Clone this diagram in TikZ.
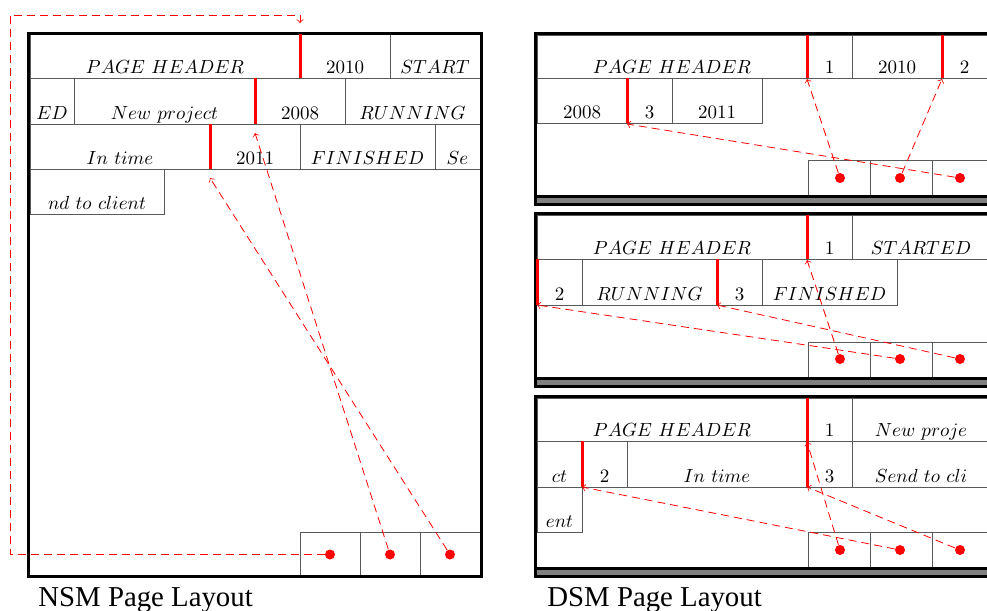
\documentclass[tikz,border=0pt]{standalone}
\usepackage{fontspec}
\newfontfamily\capfont{Liberation Serif}
\begin{document}
\begin{tikzpicture}[x=0.5pt,y=-0.5pt,
  cellbox/.style={draw=black!65, line width=0.5pt},
  redbar/.style={red, line width=1.5pt},
  framebox/.style={black, line width=1.5pt},
  lbl/.style={anchor=base, inner sep=0pt, scale=0.95},
  reddot/.style={circle, fill=red, inner sep=0pt, minimum size=5pt},
  conn/.style={red, dash pattern=on 4pt off 2.5pt, line width=0.4pt, ->},
  caption/.style={anchor=base west, inner sep=0pt, font=\capfont\fontsize{14.4}{16}\selectfont}]
\clip (0,0) rectangle (987,611);
\newcommand\cellA[6]{\draw[cellbox] (#2,#4) rectangle (#3,#5); \node[lbl] (#1) at ({(#2+#3)/2},{#5-4.5}) {#6};}
\newcommand\slotA[4]{\draw[cellbox] (#1,#3) rectangle (#2,#4);}
% ===== NSM page =====
\cellA{lph}{30}{300}{34}{78}{$PAGE\ HEADER$}
\cellA{la}{300}{390}{34}{78}{$2010$}
\cellA{lb}{390}{480}{34}{78}{$START$}
\cellA{lc}{30}{74}{78}{124}{$ED$}
\cellA{ld}{74}{255}{78}{124}{$New\ project$}
\cellA{le}{255}{345}{78}{124}{$2008$}
\cellA{lf}{345}{480}{78}{124}{$RUNNING$}
\cellA{lg}{30}{210}{124}{169}{$In\ time$}
\cellA{lh}{210}{300}{124}{169}{$2011$}
\cellA{li}{300}{435}{124}{169}{$FINISHED$}
\cellA{lj}{435}{480}{124}{169}{$Se$}
\cellA{lk}{30}{164}{169}{214}{$nd\ to\ client$}
\slotA{300}{360}{532}{577}
\slotA{360}{420}{532}{577}
\slotA{420}{480}{532}{577}
\draw[framebox] (28.5,33) rectangle (481.5,576.5);
\draw[redbar] (300,34) -- (300,78);
\draw[redbar] (255,78) -- (255,124);
\draw[redbar] (210,124) -- (210,169);
\node[reddot] (L1) at (330,554.5) {};
\node[reddot] (L2) at (390,554.5) {};
\node[reddot] (L3) at (450,554.5) {};
\coordinate (lpa) at (10,15);
\coordinate (lt1) at (300,23);
\coordinate (lt2) at (255,133);
\coordinate (lt3) at (210,178);
\draw[conn] (L1) -| (lpa) -| (lt1);
\draw[conn] (L2) -- (lt2);
\draw[conn] (L3) -- (lt3);
\node[caption] (capl) at (38,606) {NSM Page Layout};
% ===== DSM page 1 =====
\fill[gray] (535.5,196.5) rectangle (988.5,204.5);
\cellA{aph}{537}{807}{35}{78}{$PAGE\ HEADER$}
\cellA{aa}{807}{852}{35}{78}{$1$}
\cellA{ab}{852}{942}{35}{78}{$2010$}
\cellA{ac}{942}{987}{35}{78}{$2$}
\cellA{ad}{537}{627}{78}{123}{$2008$}
\cellA{ae}{627}{672}{78}{123}{$3$}
\cellA{af}{672}{762}{78}{123}{$2011$}
\slotA{808}{870}{160}{196.5}
\slotA{870}{932}{160}{196.5}
\slotA{932}{994}{160}{196.5}
\draw[framebox] (535.5,196.5) -- (988.5,196.5);
\draw[framebox] (535.5,33.5) rectangle (988.5,204.5);
\draw[redbar] (807,35) -- (807,78);
\draw[redbar] (942,35) -- (942,78);
\draw[redbar] (627,78) -- (627,123);
\node[reddot] (A1) at (840,178) {};
\node[reddot] (A2) at (900,178) {};
\node[reddot] (A3) at (960,178) {};
\coordinate (at1) at (807,79);
\coordinate (at2) at (942,79);
\coordinate (at3) at (627,124);
\draw[conn] (A1) -- (at1);
\draw[conn] (A2) -- (at2);
\draw[conn] (A3) -- (at3);
% ===== DSM page 2 =====
\fill[gray] (535.5,378) rectangle (988.5,386.5);
\cellA{bph}{537}{807}{215}{259}{$PAGE\ HEADER$}
\cellA{ba}{807}{852}{215}{259}{$1$}
\cellA{bb}{852}{990}{215}{259}{$STARTED$}
\cellA{bc}{537}{582}{259}{305}{$2$}
\cellA{bd}{582}{717}{259}{305}{$RUNNING$}
\cellA{be}{717}{762}{259}{305}{$3$}
\cellA{bf}{762}{897}{259}{305}{$FINISHED$}
\slotA{808}{870}{342}{378}
\slotA{870}{932}{342}{378}
\slotA{932}{994}{342}{378}
\draw[framebox] (535.5,378) -- (988.5,378);
\draw[framebox] (535.5,213.5) rectangle (988.5,386.5);
\draw[redbar] (807,215) -- (807,259);
\draw[redbar] (537,259) -- (537,305);
\draw[redbar] (717,259) -- (717,305);
\node[reddot] (B1) at (840,359) {};
\node[reddot] (B2) at (900,359) {};
\node[reddot] (B3) at (960,359) {};
\coordinate (bt1) at (807,260);
\coordinate (bt2) at (537,305);
\coordinate (bt3) at (717,305);
\draw[conn] (B1) -- (bt1);
\draw[conn] (B2) -- (bt2);
\draw[conn] (B3) -- (bt3);
% ===== DSM page 3 =====
\fill[gray] (535.5,568.5) rectangle (988.5,576.5);
\cellA{cph}{537}{807}{398}{441}{$PAGE\ HEADER$}
\cellA{ca}{807}{852}{398}{441}{$1$}
\cellA{cb}{852}{990}{398}{441}{$New\ proje$}
\cellA{cc}{537}{582}{441}{487}{$ct$}
\cellA{cd}{582}{627}{441}{487}{$2$}
\cellA{ce}{627}{807}{441}{487}{$In\ time$}
\cellA{cf}{807}{852}{441}{487}{$3$}
\cellA{cg}{852}{990}{441}{487}{$Send\ to\ cli$}
\cellA{ch}{537}{582}{487}{532}{$ent$}
\slotA{808}{870}{532}{568.5}
\slotA{870}{932}{532}{568.5}
\slotA{932}{994}{532}{568.5}
\draw[framebox] (535.5,568.5) -- (988.5,568.5);
\draw[framebox] (535.5,396) rectangle (988.5,576.5);
\draw[redbar] (807,398) -- (807,441);
\draw[redbar] (582,441) -- (582,487);
\draw[redbar] (807,441) -- (807,487);
\node[reddot] (C1) at (840,550) {};
\node[reddot] (C2) at (900,550) {};
\node[reddot] (C3) at (960,550) {};
\coordinate (ct1) at (807,442);
\coordinate (ct2) at (582,487);
\coordinate (ct3) at (807,487);
\draw[conn] (C1) -- (ct1);
\draw[conn] (C2) -- (ct2);
\draw[conn] (C3) -- (ct3);
\node[caption] (capr) at (547,606) {DSM Page Layout};
\end{tikzpicture}
\end{document}
